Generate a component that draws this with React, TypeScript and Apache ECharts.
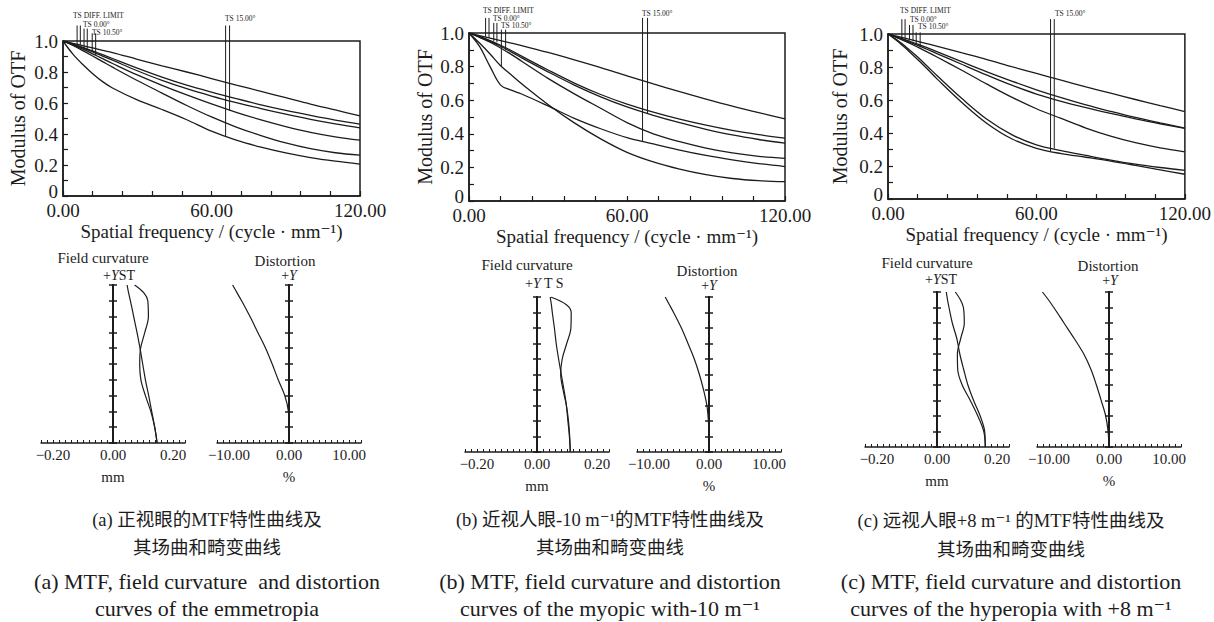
import React, { useEffect, useRef } from 'react';
import * as echarts from 'echarts';

// ---------- data ----------
const FREQ = [0, 4, 8, 12, 16, 20, 30, 40, 50, 60, 70, 80, 90, 100, 110, 120];

// (a) emmetropia MTF curves
const A_DIFF = [1, 0.985, 0.97, 0.955, 0.94, 0.925, 0.882, 0.84, 0.8, 0.758, 0.716, 0.675, 0.634, 0.593, 0.555, 0.517];
const A_C1 = [1, 0.98, 0.959, 0.936, 0.912, 0.887, 0.825, 0.767, 0.715, 0.67, 0.628, 0.588, 0.552, 0.52, 0.49, 0.464];
const A_C2 = [1, 0.978, 0.955, 0.93, 0.903, 0.876, 0.808, 0.746, 0.692, 0.645, 0.603, 0.564, 0.528, 0.495, 0.466, 0.44];
const A_C3 = [1, 0.975, 0.947, 0.917, 0.886, 0.855, 0.781, 0.714, 0.652, 0.594, 0.54, 0.491, 0.448, 0.411, 0.382, 0.36];
const A_C4 = [1, 0.971, 0.938, 0.903, 0.867, 0.831, 0.745, 0.664, 0.584, 0.51, 0.445, 0.39, 0.342, 0.305, 0.279, 0.264];
const A_C5 = [1, 0.915, 0.848, 0.789, 0.738, 0.697, 0.62, 0.558, 0.492, 0.418, 0.36, 0.315, 0.278, 0.248, 0.225, 0.206];

// (b) myopic -10 MTF curves
const B_DIFF = [1, 0.985, 0.97, 0.955, 0.94, 0.925, 0.884, 0.84, 0.794, 0.745, 0.697, 0.651, 0.607, 0.565, 0.526, 0.489];
const B_C1 = [1, 0.98, 0.955, 0.927, 0.896, 0.862, 0.78, 0.702, 0.634, 0.577, 0.529, 0.487, 0.451, 0.42, 0.395, 0.374];
const B_C2 = [1, 0.976, 0.95, 0.921, 0.888, 0.852, 0.769, 0.69, 0.62, 0.56, 0.51, 0.466, 0.427, 0.393, 0.366, 0.344];
const B_C3 = [1, 0.974, 0.945, 0.911, 0.873, 0.832, 0.73, 0.638, 0.552, 0.467, 0.4, 0.353, 0.315, 0.286, 0.266, 0.254];
const B_C4 = [1, 0.94, 0.875, 0.805, 0.752, 0.698, 0.575, 0.465, 0.37, 0.29, 0.233, 0.19, 0.157, 0.134, 0.121, 0.115];
const B_C5 = [1, 0.92, 0.8, 0.69, 0.66, 0.637, 0.566, 0.492, 0.43, 0.377, 0.34, 0.303, 0.271, 0.245, 0.223, 0.205];

// (c) hyperopia +8 MTF curves
const C_DIFF = [1, 0.985, 0.97, 0.955, 0.94, 0.925, 0.885, 0.845, 0.802, 0.761, 0.72, 0.68, 0.641, 0.603, 0.566, 0.53];
const C_C1 = [1, 0.98, 0.96, 0.939, 0.916, 0.892, 0.831, 0.771, 0.715, 0.662, 0.614, 0.57, 0.531, 0.494, 0.461, 0.43];
const C_C2 = [1, 0.978, 0.955, 0.931, 0.906, 0.88, 0.815, 0.751, 0.69, 0.636, 0.592, 0.554, 0.519, 0.486, 0.456, 0.428];
const C_C3 = [1, 0.975, 0.949, 0.92, 0.89, 0.859, 0.779, 0.696, 0.617, 0.547, 0.488, 0.43, 0.381, 0.341, 0.31, 0.286];
const C_C4 = [1, 0.96, 0.912, 0.86, 0.803, 0.745, 0.607, 0.483, 0.39, 0.328, 0.293, 0.264, 0.236, 0.211, 0.191, 0.174];
const C_C5 = [1, 0.955, 0.902, 0.845, 0.786, 0.725, 0.583, 0.458, 0.365, 0.307, 0.275, 0.253, 0.23, 0.204, 0.177, 0.15];

// TS marker lines (frequency, top, bottom) in pairs: DIFF. LIMIT, 0.00°, 10.50°, 15.00°
const A_MARK_X = [5.7, 7.0, 8.5, 9.8, 11.8, 13.2, 65.7, 67.3];
const A_MARK_TOP = [1.1, 1.1, 1.08, 1.08, 1.05, 1.05, 1.1, 1.1];
const A_MARK_BOT = [0.978, 0.974, 0.957, 0.95, 0.93, 0.91, 0.384, 0.55];
const B_MARK_X = [6.3, 7.6, 9.4, 10.6, 12.3, 13.9, 65.9, 67.8];
const B_MARK_TOP = [1.09, 1.09, 1.06, 1.06, 1.02, 1.02, 1.09, 1.09];
const B_MARK_BOT = [0.976, 0.972, 0.95, 0.945, 0.8, 0.9, 0.352, 0.523];
const C_MARK_X = [5.6, 6.9, 8.7, 10.1, 11.4, 13.0, 65.7, 67.2];
const C_MARK_TOP = [1.09, 1.09, 1.055, 1.055, 1.01, 1.01, 1.09, 1.09];
const C_MARK_BOT = [0.978, 0.975, 0.96, 0.955, 0.94, 0.92, 0.288, 0.306];
const MARK_LABELS = ['TS DIFF. LIMIT', 'TS 0.00°', 'TS 10.50°', 'TS 15.00°'];

// field curvature / distortion (field angle in degrees)
const FIELD = [0, 1.5, 3, 4.5, 6, 7.5, 9, 10.5, 12, 13.5, 14.25, 15];
const A_FC_S = [0.147, 0.139, 0.129, 0.119, 0.108, 0.099, 0.09, 0.08, 0.069, 0.058, 0.052, 0.047];
const A_FC_T = [0.147, 0.139, 0.126, 0.108, 0.093, 0.089, 0.092, 0.106, 0.118, 0.116, 0.103, 0.072];
const B_FC_S = [0.111, 0.108, 0.103, 0.098, 0.09, 0.081, 0.072, 0.064, 0.058, 0.051, 0.048, 0.044];
const B_FC_T = [0.111, 0.109, 0.105, 0.098, 0.087, 0.079, 0.084, 0.099, 0.113, 0.114, 0.098, 0.046];
const C_FC_S = [0.161, 0.159, 0.144, 0.122, 0.103, 0.089, 0.076, 0.066, 0.051, 0.04, 0.035, 0.031];
const C_FC_T = [0.161, 0.156, 0.136, 0.111, 0.084, 0.069, 0.068, 0.079, 0.091, 0.088, 0.078, 0.061];
const A_DIST = [0, 0, -0.1, -0.7, -1.8, -2.8, -3.9, -5.2, -6.5, -7.9, -8.65, -9.4];
const B_DIST = [0, -0.02, -0.1, -0.35, -0.9, -1.6, -2.45, -3.5, -4.6, -5.9, -6.6, -7.3];
const C_DIST = [0, -0.15, -0.55, -1.3, -2.1, -3.0, -4.2, -5.8, -7.5, -9.2, -10.1, -11.1];

const CAPTIONS = [
  ['(a) 正视眼的MTF特性曲线及', '其场曲和畸变曲线', '(a) MTF, field curvature  and distortion', 'curves of the emmetropia'],
  ['(b) 近视人眼-10 m⁻¹的MTF特性曲线及', '其场曲和畸变曲线', '(b) MTF, field curvature and distortion', 'curves of the myopic with-10 m⁻¹'],
  ['(c) 远视人眼+8 m⁻¹ 的MTF特性曲线及', '其场曲和畸变曲线', '(c) MTF, field curvature and distortion', 'curves of the hyperopia with +8 m⁻¹'],
];
const FC_TAGS = ['ST', ' T S', 'ST'];

const PANELS = [
  { mtf: [A_DIFF, A_C1, A_C2, A_C3, A_C4, A_C5], mx: A_MARK_X, mt: A_MARK_TOP, mb: A_MARK_BOT, s: A_FC_S, t: A_FC_T, d: A_DIST },
  { mtf: [B_DIFF, B_C1, B_C2, B_C3, B_C4, B_C5], mx: B_MARK_X, mt: B_MARK_TOP, mb: B_MARK_BOT, s: B_FC_S, t: B_FC_T, d: B_DIST },
  { mtf: [C_DIFF, C_C1, C_C2, C_C3, C_C4, C_C5], mx: C_MARK_X, mt: C_MARK_TOP, mb: C_MARK_BOT, s: C_FC_S, t: C_FC_T, d: C_DIST },
];

// ---------- layout ----------
const LAYOUT = [
  {
    mtf: { left: 63, top: 41, width: 297, height: 155 }, yGap: 35,
    fc: { left: 41, top: 285, width: 144, height: 158 },
    dist: { left: 217, top: 285, width: 144, height: 158 },
    tsPos: [[73, 15], [83, 24], [92, 32], [225, 18]],
    fcTitle: [103, 258], fcTag: [103, 275], dTitle: [285, 261], dTag: [289, 275],
    capX: 207, capY: [520, 548, 581, 608],
  },
  {
    mtf: { left: 469, top: 33, width: 316, height: 168 }, yGap: 34,
    fc: { left: 465, top: 297, width: 144, height: 155 },
    dist: { left: 637, top: 297, width: 144, height: 155 },
    tsPos: [[483, 10], [493, 18], [501, 25], [642, 13]],
    fcTitle: [527, 265], fcTag: [525, 283], dTitle: [707, 271], dTag: [709, 285],
    capX: 610, capY: [520, 548, 581, 608],
  },
  {
    mtf: { left: 888, top: 34, width: 308, height: 165 }, yGap: 38,
    fc: { left: 865, top: 292, width: 144, height: 155 },
    dist: { left: 1037, top: 292, width: 144, height: 155 },
    tsPos: [[900, 10], [910, 19], [918, 26], [1055, 13]],
    fcTitle: [927, 263], fcTag: [925, 279], dTitle: [1108, 266], dTag: [1110, 280],
    capX: 1011, capY: [521, 550, 581, 608],
  },
];

const INK = '#1c1c1c';
const SERIF = '"Liberation Serif", "DejaVu Serif", "Noto Sans CJK SC", serif';

const near = (a: number, b: number) => Math.abs(a - b) < 1e-6;

function buildOption() {
  const grid: any[] = [];
  const xAxis: any[] = [];
  const yAxis: any[] = [];
  const series: any[] = [];
  const graphic: any[] = [];

  const text = (x: number, y: number, t: string, size: number, align = 'center', extra: any = {}) =>
    graphic.push({
      type: 'text', x, y, silent: true,
      style: { text: t, fill: INK, fontSize: size, fontFamily: SERIF, align, verticalAlign: 'middle', ...extra },
    });

  PANELS.forEach((p, pi) => {
    const L = LAYOUT[pi];

    // ---- MTF ----
    const gM = grid.length;
    grid.push({ ...L.mtf, show: true, borderColor: INK, borderWidth: 1.5, backgroundColor: 'transparent' });
    const xM = xAxis.length;
    xAxis.push({
      gridIndex: gM, type: 'value', min: 0, max: 120, interval: 12,
      axisLine: { onZero: false, lineStyle: { color: INK, width: 1.5 } },
      axisTick: { inside: true, length: 5, lineStyle: { color: INK, width: 1.2 } },
      splitLine: { show: false },
      axisLabel: {
        color: INK, fontSize: 19, fontFamily: SERIF, margin: 5,
        formatter: (v: number) => (near(v % 60, 0) ? v.toFixed(2) : ''),
      },
      name: 'Spatial frequency / (cycle · mm⁻¹)', nameLocation: 'middle', nameGap: 26,
      nameTextStyle: { color: INK, fontSize: 19, fontFamily: SERIF },
    });
    const yM = yAxis.length;
    yAxis.push({
      gridIndex: gM, type: 'value', min: 0, max: 1, interval: 0.1,
      axisLine: { onZero: false, lineStyle: { color: INK, width: 1.5 } },
      axisTick: { inside: true, length: 5, lineStyle: { color: INK, width: 1.2 } },
      splitLine: { show: false },
      axisLabel: {
        color: INK, fontSize: 19, fontFamily: SERIF, margin: 5,
        formatter: (v: number) => {
          const k = Math.round(v * 10);
          if (k % 2 !== 0) return '';
          return k === 0 ? '{z|0}' : (k / 10).toFixed(1);
        },
        rich: { z: { color: INK, fontSize: 19, fontFamily: SERIF, padding: [0, 0, 10, 0] } },
      },
      name: 'Modulus of OTF', nameLocation: 'middle', nameGap: L.yGap, nameRotate: 90,
      nameTextStyle: { color: INK, fontSize: 20, fontFamily: SERIF },
    });
    p.mtf.forEach((curve) => {
      series.push({
        type: 'line', xAxisIndex: xM, yAxisIndex: yM, symbol: 'none', silent: true,
        smooth: 0.35,
        lineStyle: { color: INK, width: 1.3 },
        data: FREQ.map((f, i) => [f, curve[i]]),
      });
    });
    p.mx.forEach((x, i) => {
      series.push({
        type: 'line', xAxisIndex: xM, yAxisIndex: yM, symbol: 'none', silent: true, clip: false,
        lineStyle: { color: INK, width: 1 },
        data: [[x, p.mt[i]], [x, p.mb[i]]],
      });
    });
    MARK_LABELS.forEach((lab, i) => text(L.tsPos[i][0], L.tsPos[i][1], lab, 7.5, 'left'));

    // ---- field curvature & distortion ----
    const sub = (rect: any, min: number, max: number, interval: number, labels: number[], fmt: (v: number) => string, unit: string) => {
      const g = grid.length;
      grid.push({ ...rect });
      const xi = xAxis.length;
      xAxis.push({
        gridIndex: g, type: 'value', min, max, interval,
        axisLine: { onZero: false, lineStyle: { color: INK, width: 1.5 } },
        axisTick: { inside: true, length: 3, lineStyle: { color: INK, width: 1 } },
        splitLine: { show: false },
        axisLabel: {
          color: INK, fontSize: 15, fontFamily: SERIF, margin: 4,
          formatter: (v: number) => (labels.some((l) => Math.abs(l - v) < interval / 10) ? fmt(v) : ''),
        },
        name: unit, nameLocation: 'middle', nameGap: 26,
        nameTextStyle: { color: INK, fontSize: 15, fontFamily: SERIF },
      });
      const yIdx: number[] = [];
      [true, false].forEach((inside) => {
        yIdx.push(yAxis.length);
        yAxis.push({
          gridIndex: g, type: 'value', min: 0, max: 15, interval: 1.5, position: 'left',
          axisLine: { onZero: true, onZeroAxisIndex: xi, lineStyle: { color: INK, width: 2 } },
          axisTick: { inside, length: 4, lineStyle: { color: INK, width: 1.5 } },
          axisLabel: { show: false },
          splitLine: { show: false },
        });
      });
      return { xi, yi: yIdx[0] };
    };

    const fmtSigned = (digits: number) => (v: number) => {
      const r = Math.round(v * 100) / 100;
      const s = Math.abs(r).toFixed(digits);
      return r < 0 ? '−' + s : s;
    };

    const fc = sub(L.fc, -0.24, 0.24, 0.02, [-0.2, 0, 0.2], fmtSigned(2), 'mm');
    [p.s, p.t].forEach((arr) => {
      series.push({
        type: 'line', xAxisIndex: fc.xi, yAxisIndex: fc.yi, symbol: 'none', silent: true,
        smooth: 0.35, lineStyle: { color: INK, width: 1.2 },
        data: FIELD.map((f, i) => [arr[i], f]),
      });
    });
    const ds = sub(L.dist, -12, 12, 1, [-10, 0, 10], fmtSigned(2), '%');
    series.push({
      type: 'line', xAxisIndex: ds.xi, yAxisIndex: ds.yi, symbol: 'none', silent: true,
      smooth: 0.35, lineStyle: { color: INK, width: 1.2 },
      data: FIELD.map((f, i) => [p.d[i], f]),
    });

    const rich = {
      n: { fontSize: 14, fontFamily: SERIF, fill: INK },
      i: { fontSize: 14, fontFamily: SERIF, fill: INK, fontStyle: 'italic' },
    };
    text(L.fcTitle[0], L.fcTitle[1], 'Field curvature', 15);
    text(L.fcTag[0], L.fcTag[1], `{n|+}{i|Y}{n|${FC_TAGS[pi]}}`, 14, 'left', { rich });
    text(L.dTitle[0], L.dTitle[1], 'Distortion', 15);
    text(L.dTag[0], L.dTag[1], '{n|+}{i|Y}', 14, 'center', { rich });

    // ---- captions ----
    CAPTIONS[pi].forEach((c, ci) => text(L.capX, L.capY[ci], c, ci < 2 ? 18.5 : 22));
  });

  return {
    animation: false,
    backgroundColor: '#ffffff',
    grid, xAxis, yAxis, series, graphic,
  };
}

export default function App() {
  const ref = useRef<HTMLDivElement>(null);
  useEffect(() => {
    if (!ref.current) return;
    const chart = echarts.init(ref.current, undefined, { renderer: 'svg' });
    chart.setOption(buildOption() as any);
    return () => chart.dispose();
  }, []);
  return (
    <div
      ref={ref}
      style={{ position: 'absolute', left: 0, top: 0, width: 1214, height: 622, background: '#fff' }}
    />
  );
}
